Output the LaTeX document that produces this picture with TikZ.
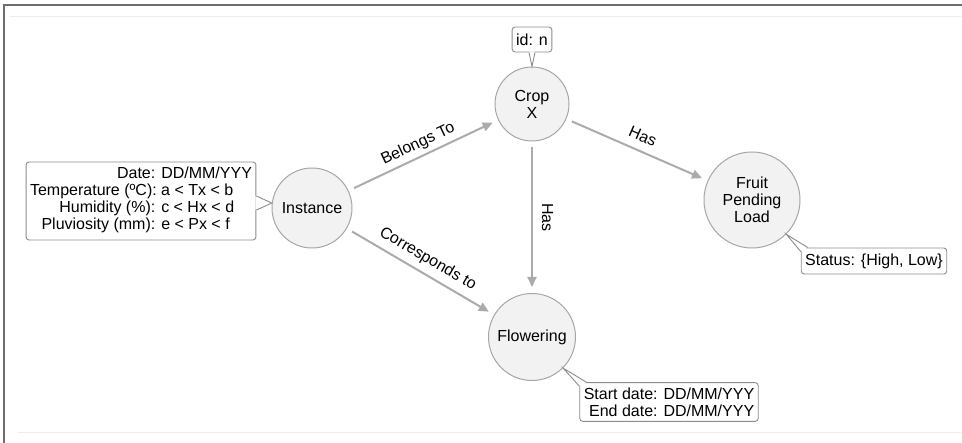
\documentclass[tikz,border=0pt]{standalone}
\usepackage{fontspec}
\setmainfont{Liberation Sans}
\usetikzlibrary{arrows.meta,calc}
\definecolor{nodefill}{HTML}{F2F2F3}
\definecolor{nodeline}{HTML}{A6A6A6}
\definecolor{edgegray}{HTML}{ABABAB}
\definecolor{boxline}{HTML}{8C8C8C}
\definecolor{framegray}{HTML}{6E6E6E}
\definecolor{rulegray}{HTML}{EDEDED}
\begin{document}
\begin{tikzpicture}[x=1pt,y=-1pt,
  every node/.style={font=\fontsize{16}{17}\selectfont},
  entity/.style={circle,draw=nodeline,fill=nodefill,line width=1pt,inner sep=1pt,align=center},
  prop/.style={rectangle,rounded corners=3pt,draw=boxline,fill=white,line width=0.9pt,inner xsep=4pt,inner ysep=5pt},
  pointer/.style={draw=boxline,line width=0.9pt},
  rel/.style={draw=edgegray,line width=2pt,-{Triangle[length=10pt,width=9pt]},shorten <=6pt,shorten >=6pt},
  lbl/.style={sloped,above,inner sep=4pt}]
\useasboundingbox (0,0) rectangle (962,443);
\draw[rulegray,line width=1pt] (10,17) -- (962,17);
\draw[rulegray,line width=1pt] (18,433) -- (962,433);
\draw[framegray,line width=2pt] (4,443) -- (4,5) -- (962,5);

\node[entity,minimum size=80pt] (instance) at (312,208) {Instance};
\node[entity,minimum size=74pt] (crop) at (532,104) {Crop\\X};
\node[entity,minimum size=87pt] (flowering) at (532,337) {Flowering};
\node[entity,minimum size=96pt] (fruit) at (752,200) {Fruit\\Pending\\Load};

\node[prop,minimum height=25pt] (idbox) at (532,39.5) {id: n};
\node[prop] (infobox) at (141,201) {\begin{tabular}{@{}r@{ }l@{}}
Date: & DD/MM/YYY\\
Temperature (ºC): & a < Tx < b\\
Humidity (\%): & c < Hx < d\\
Pluviosity (mm): & e < Px < f
\end{tabular}};
\node[prop,minimum height=26pt] (statusbox) at (874,261) {Status: \{High, Low\}};
\node[prop,align=right] (datesbox) at (669,402) {Start date: DD/MM/YYY\\End date: DD/MM/YYY};

\fill[white] ($(idbox.south)+(-3,-1)$) -- (crop.north) -- ($(idbox.south)+(3,-1)$) -- cycle;
\draw[pointer] ($(idbox.south)+(-3,0)$) -- (crop.north) -- ($(idbox.south)+(3,0)$);
\fill[white] ($(infobox.east)+(-1,-5)$) -- (instance.173) -- ($(infobox.east)+(-1,9)$) -- cycle;
\draw[pointer] ($(infobox.east)+(0,-5)$) -- (instance.173) -- ($(infobox.east)+(0,9)$);
\fill[white] ($(statusbox.north west)+(0,4)$) -- (fruit.-45) -- ($(statusbox.north west)+(7,0)$) -- cycle;
\draw[pointer] ($(statusbox.north west)+(0,4)$) -- (fruit.-45) -- ($(statusbox.north west)+(7,0)$);
\fill[white] ($(datesbox.north west)+(0,4)$) -- (flowering.-45) -- ($(datesbox.north west)+(7,0)$) -- cycle;
\draw[pointer] ($(datesbox.north west)+(0,4)$) -- (flowering.-45) -- ($(datesbox.north west)+(7,0)$);

\draw[rel] (instance) -- node[lbl] {Belongs To} (crop);
\draw[rel] (instance) -- node[lbl,inner sep=6pt] {Corresponds to} (flowering);
\draw[rel] (crop) -- node[lbl,inner sep=8pt] {Has} (fruit);
\draw[rel] (crop) -- node[lbl,inner sep=9pt] {Has} (flowering);
\end{tikzpicture}
\end{document}
